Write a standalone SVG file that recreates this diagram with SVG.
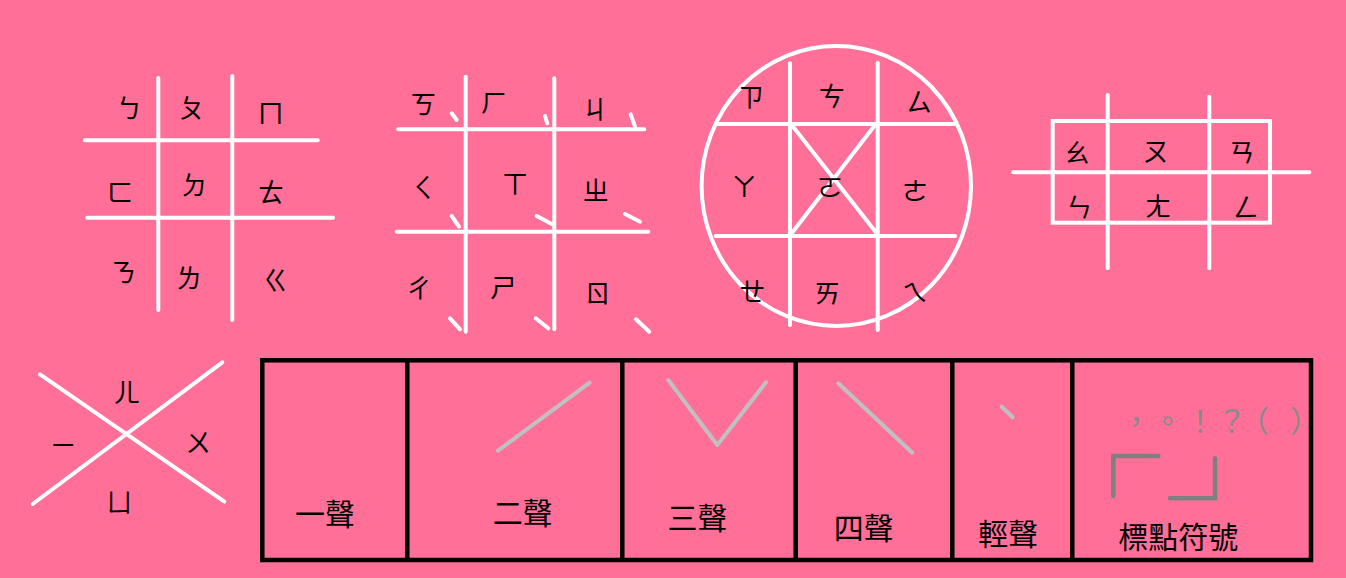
<svg xmlns="http://www.w3.org/2000/svg" width="1346" height="578" viewBox="0 0 1346 578">
<style>
.w{stroke:#fff;stroke-width:4;stroke-linecap:round;fill:none}
.b{font-family:"Noto Sans CJK TC","Noto Sans CJK SC",sans-serif;font-size:26px;fill:#000;text-anchor:middle;dominant-baseline:central}
.lbl{font-family:"Noto Sans CJK TC","Noto Sans CJK SC",sans-serif;font-size:30px;fill:#000;text-anchor:middle}
.t{stroke:#c0c0c0;stroke-width:4;stroke-linecap:round;stroke-linejoin:round;fill:none}
.k{stroke:#000;stroke-width:4.5;fill:none}
</style>
<rect width="1346" height="578" fill="#ff6f98"/>
<g id="grid1">
<line class="w" x1="158.3" y1="78" x2="158.3" y2="310"/>
<line class="w" x1="232.3" y1="76" x2="232.3" y2="320"/>
<line class="w" x1="85" y1="140.3" x2="317.7" y2="140.3"/>
<line class="w" x1="87.3" y1="217.7" x2="333" y2="217.7"/>
<text class="b" x="129.3" y="106.7">ㄅ</text>
<text class="b" x="191.7" y="106.7">ㄆ</text>
<text class="b" x="270.7" y="111.7">ㄇ</text>
<text class="b" x="120" y="190">ㄈ</text>
<text class="b" x="194.3" y="183.3">ㄉ</text>
<text class="b" x="271" y="190.7">ㄊ</text>
<text class="b" x="123.3" y="270">ㄋ</text>
<text class="b" x="189" y="276">ㄌ</text>
<text class="b" x="275.7" y="278.3">ㄍ</text>
</g>
<g id="grid2">
<line class="w" x1="465.7" y1="76.7" x2="465.7" y2="331.7"/>
<line class="w" x1="554.3" y1="78.3" x2="554.3" y2="329.3"/>
<line class="w" x1="398.3" y1="129.3" x2="644.3" y2="129.3"/>
<line class="w" x1="396.7" y1="231.7" x2="648.3" y2="231.7"/>
<line class="w" x1="451.7" y1="113.3" x2="456.7" y2="120"/>
<line class="w" x1="545" y1="116" x2="547.3" y2="123.3"/>
<line class="w" x1="630.7" y1="114.3" x2="635" y2="126.7"/>
<line class="w" x1="451.7" y1="216" x2="459" y2="226.7"/>
<line class="w" x1="536.7" y1="216" x2="551.7" y2="224"/>
<line class="w" x1="625" y1="214" x2="640" y2="221.7"/>
<line class="w" x1="450" y1="318.3" x2="460" y2="329.3"/>
<line class="w" x1="535.7" y1="318.3" x2="548.3" y2="328.3"/>
<line class="w" x1="636" y1="319.3" x2="649.3" y2="331.7"/>
<text class="b" x="423.3" y="102.3">ㄎ</text>
<text class="b" x="494" y="100">ㄏ</text>
<text class="b" x="595" y="107.3">ㄐ</text>
<text class="b" x="423.3" y="185">ㄑ</text>
<text class="b" x="515" y="181.7">ㄒ</text>
<text class="b" x="595.7" y="188.3">ㄓ</text>
<text class="b" x="419" y="286.7">ㄔ</text>
<text class="b" x="503.3" y="285">ㄕ</text>
<text class="b" x="597.7" y="291.7">ㄖ</text>
</g>
<g id="grid3">
<ellipse class="w" cx="836.3" cy="186" rx="134.7" ry="140"/>
<line class="w" x1="790" y1="63.3" x2="790" y2="325"/>
<line class="w" x1="877.7" y1="62.7" x2="877.7" y2="330"/>
<line class="w" x1="716.7" y1="124" x2="954.3" y2="124"/>
<line class="w" x1="715.7" y1="236" x2="955" y2="236"/>
<line class="w" x1="791.7" y1="125" x2="876.7" y2="233.3"/>
<line class="w" x1="875" y1="125" x2="791.7" y2="233.3"/>
<text class="b" x="751" y="95">ㄗ</text>
<text class="b" x="831.7" y="94">ㄘ</text>
<text class="b" x="919" y="100">ㄙ</text>
<text class="b" x="744.3" y="184">ㄚ</text>
<text class="b" x="830" y="185">ㄛ</text>
<text class="b" x="915" y="189">ㄜ</text>
<text class="b" x="752.3" y="289.3">ㄝ</text>
<text class="b" x="827.3" y="291.7">ㄞ</text>
<text class="b" x="915" y="290">ㄟ</text>
</g>
<g id="grid4">
<rect class="w" x="1052.7" y="121" width="217.3" height="101.7"/>
<line class="w" x1="1107.7" y1="95" x2="1107.7" y2="268.3"/>
<line class="w" x1="1209.3" y1="96.7" x2="1209.3" y2="268.3"/>
<line class="w" x1="1013.3" y1="172.3" x2="1309.3" y2="172.3"/>
<text class="b" x="1076.7" y="150.7">ㄠ</text>
<text class="b" x="1155.7" y="149.3">ㄡ</text>
<text class="b" x="1241.7" y="150">ㄢ</text>
<text class="b" x="1079" y="205">ㄣ</text>
<text class="b" x="1158.3" y="204">ㄤ</text>
<text class="b" x="1245.7" y="205">ㄥ</text>
</g>
<g id="cross">
<line class="w" x1="40" y1="374.3" x2="224.3" y2="501.7"/>
<line class="w" x1="222.3" y1="362.3" x2="32.7" y2="504"/>
<text class="b" x="126.7" y="390">ㄦ</text>
<text class="b" x="63.3" y="443.3">ㄧ</text>
<text class="b" x="198.3" y="440">ㄨ</text>
<text class="b" x="119.3" y="500">ㄩ</text>
</g>
<g id="tones">
<rect class="k" x="262.3" y="360.3" width="1048.7" height="199.7"/>
<line class="k" x1="407.3" y1="360" x2="407.3" y2="560"/>
<line class="k" x1="622.3" y1="360" x2="622.3" y2="560"/>
<line class="k" x1="795.7" y1="360" x2="795.7" y2="560"/>
<line class="k" x1="952.3" y1="360" x2="952.3" y2="560"/>
<line class="k" x1="1072.3" y1="360" x2="1072.3" y2="560"/>
<g id="tone2"><line class="t" x1="589.7" y1="382.7" x2="498" y2="450.7"/></g>
<g id="tone3"><polyline class="t" points="668.3,380 717.3,445 766,382.3"/></g>
<g id="tone4"><line class="t" x1="838.3" y1="383.3" x2="912.3" y2="452.7"/></g>
<g id="tone5"><line class="t" x1="1001.7" y1="406.7" x2="1012.7" y2="417.3"/></g>
<g id="punct">
<text font-family="Noto Sans CJK TC, Noto Sans CJK SC, sans-serif" font-size="30" fill="#8a8a8a" text-anchor="middle" dominant-baseline="central" x="1136 1167.7 1200 1231.7 1254 1305" y="419">，。！？（）</text>
<polyline points="1158.3,456 1113.3,456 1113.3,496" fill="none" stroke="#808080" stroke-width="4.5" stroke-linecap="round"/>
<polyline points="1215,458.3 1215,498.3 1170,498.3" fill="none" stroke="#808080" stroke-width="4.5" stroke-linecap="round"/>
</g>
<text class="lbl" x="325" y="525">一聲</text>
<text class="lbl" x="522.7" y="524">二聲</text>
<text class="lbl" x="697.5" y="529">三聲</text>
<text class="lbl" x="863.8" y="538.5">四聲</text>
<text class="lbl" x="1008.3" y="545">輕聲</text>
<text class="lbl" x="1178.3" y="547.5">標點符號</text>
</g>
</svg>
